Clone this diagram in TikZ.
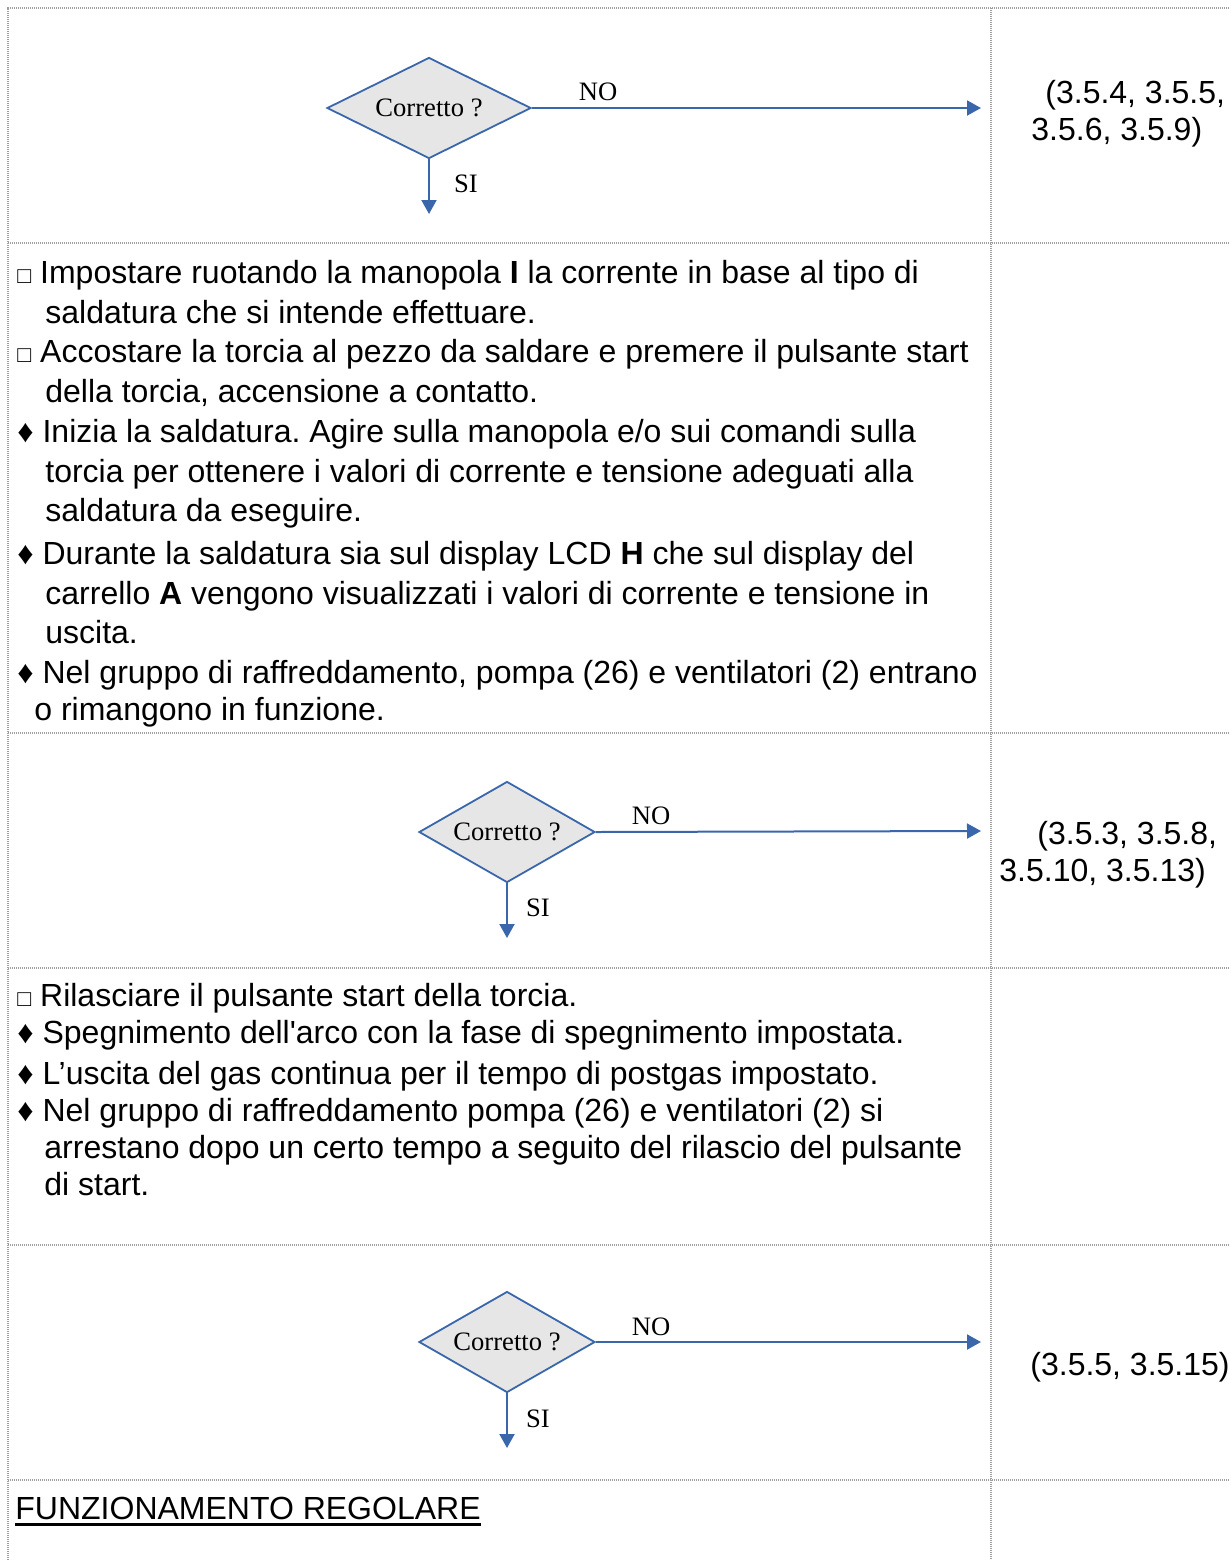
\documentclass[tikz,border=0pt]{standalone}
\usepackage{fontspec}
\setmainfont{Liberation Sans}
\newfontfamily\serifdia{Liberation Serif}
\usetikzlibrary{shapes.geometric,arrows.meta,positioning}
\frenchspacing

\definecolor{flowblue}{RGB}{58,103,172}
\definecolor{diafill}{RGB}{230,230,230}
\newcommand{\sqb}{{\fontsize{11.5}{11.5}\selectfont\char"25A1}}
\newcommand{\dmb}{\char"2666}
\newcommand{\lead}{\rule{0pt}{13pt}}

\begin{document}
\begin{tikzpicture}[x=0.5pt, y=-0.5pt]
\tikzstyle{decision} = [diamond, aspect=2, draw=flowblue, line width=0.9pt, fill=diafill, inner sep=0pt, minimum height=50.5pt, font=\serifdia\fontsize{13.3}{15}\selectfont]
\tikzstyle{flow} = [flowblue, line width=1pt, -{Triangle[length=7pt,width=7.5pt]}]
\tikzstyle{lbl} = [inner sep=0pt, font=\serifdia\fontsize{13.3}{15}\selectfont]
\tikzstyle{item} = [anchor=north west, align=left, inner sep=0pt, font=\fontsize{16}{19.85}\selectfont]
\tikzstyle{ref} = [anchor=north west, align=left, inner sep=0pt, font=\fontsize{16}{18.5}\selectfont]
\tikzstyle{grid} = [gray!75, line width=0.6pt, dash pattern=on 0.6pt off 0.4pt]

\useasboundingbox (0,0) rectangle (1229,1560);

% table
\draw[grid] (8,1560) -- (8,8) -- (1229,8);
\draw[grid] (991,8) -- (991,1560);
\draw[grid] (8,243) -- (1229,243);
\draw[grid] (8,733) -- (1229,733);
\draw[grid] (8,968) -- (1229,968);
\draw[grid] (8,1245) -- (1229,1245);
\draw[grid] (8,1480) -- (1229,1480);

% first check
\node[decision, minimum width=102pt] (check1) at (429,108) {Corretto ?};
\coordinate (no1end) at (981,108);
\coordinate (si1end) at (429,214);
\draw[flow] (check1.east) -- (no1end);
\draw[flow] (check1.south) -- (si1end);
\node[lbl] (no1) at (598,92) {NO};
\node[lbl] (si1) at (466,184) {SI};
\node[ref] (ref1) at (1031,77) {\lead\hspace*{7pt}(3.5.4, 3.5.5,\\3.5.6, 3.5.9)};

% welding start
\node[item] (set) at (17,257) {\lead\sqb\ Impostare ruotando la manopola \textbf{I} la corrente in base al tipo di\\\hspace*{14pt}saldatura che si intende effettuare.};
\node[item] (torch) at (17,336) {\lead\sqb\ Accostare la torcia al pezzo da saldare e premere il pulsante start\\\hspace*{14pt}della torcia, accensione a contatto.};
\node[item] (weld) at (17,416) {\lead\dmb\ Inizia la saldatura. Agire sulla manopola e/o sui comandi sulla\\\hspace*{14pt}torcia per ottenere i valori di corrente e tensione adeguati alla\\\hspace*{14pt}saldatura da eseguire.};
\node[item] (disp) at (17,538) {\lead\dmb\ Durante la saldatura sia sul display LCD \textbf{H} che sul display del\\\hspace*{14pt}carrello \textbf{A} vengono visualizzati i valori di corrente e tensione in\\\hspace*{14pt}uscita.};
\node[item, font=\fontsize{16}{18.5}\selectfont] (cool1) at (17,657) {\lead\dmb\ Nel gruppo di raffreddamento, pompa (26) e ventilatori (2) entrano\\\hspace*{8.5pt}o rimangono in funzione.};

% second check
\node[decision, minimum width=88pt] (check2) at (507,832) {Corretto ?};
\coordinate (no2end) at (981,831);
\coordinate (si2end) at (507,938);
\draw[flow] (check2.east) -- (no2end);
\draw[flow] (check2.south) -- (si2end);
\node[lbl] (no2) at (651,816) {NO};
\node[lbl] (si2) at (538,908) {SI};
\node[ref] (ref2) at (999,818) {\lead\hspace*{19pt}(3.5.3, 3.5.8,\\3.5.10, 3.5.13)};

% welding end
\node[item] (release) at (17,980) {\lead\sqb\ Rilasciare il pulsante start della torcia.};
\node[item] (arcoff) at (17,1017) {\lead\dmb\ Spegnimento dell\textquotesingle arco con la fase di spegnimento impostata.};
\node[item] (postgas) at (17,1058) {\lead\dmb\ L’uscita del gas continua per il tempo di postgas impostato.};
\node[item, font=\fontsize{16}{18.5}\selectfont] (cool2) at (17,1095) {\lead\dmb\ Nel gruppo di raffreddamento pompa (26) e ventilatori (2) si\\\hspace*{13.5pt}arrestano dopo un certo tempo a seguito del rilascio del pulsante\\\hspace*{13.5pt}di start.};

% third check
\node[decision, minimum width=88pt] (check3) at (507,1342) {Corretto ?};
\coordinate (no3end) at (981,1342);
\coordinate (si3end) at (507,1448);
\draw[flow] (check3.east) -- (no3end);
\draw[flow] (check3.south) -- (si3end);
\node[lbl] (no3) at (651,1327) {NO};
\node[lbl] (si3) at (538,1419) {SI};
\node[ref] (ref3) at (1030,1349) {\lead(3.5.5, 3.5.15)};

% end
\node[anchor=base west, inner sep=0pt, font=\fontsize{16}{19.85}\selectfont] (regular) at (15,1519) {FUNZIONAMENTO REGOLARE};
\draw[line width=1.3pt] ([yshift=-2.8pt]regular.base west) -- ([yshift=-2.8pt]regular.base east);
\end{tikzpicture}
\end{document}
